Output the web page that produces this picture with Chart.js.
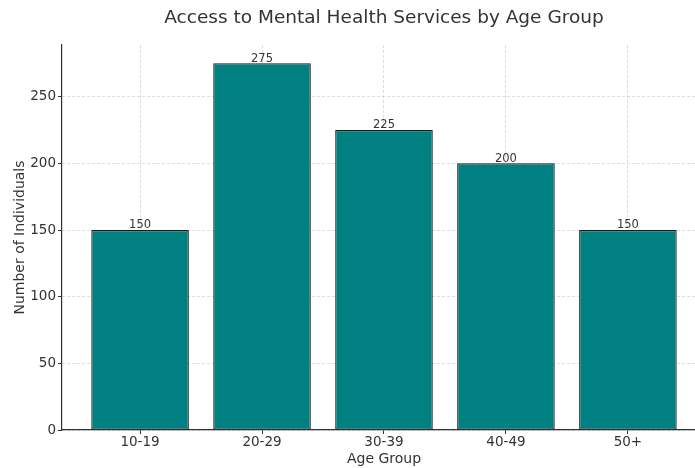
<!DOCTYPE html>
<html>
<head>
<meta charset="utf-8">
<script src="https://cdn.jsdelivr.net/npm/chart.js@4"></script>
<style>
html,body{margin:0;padding:0;background:#fff;}
#wrap{width:695px;height:468px;position:relative;}
</style>
</head>
<body>
<div id="wrap"><canvas id="c" width="695" height="468"></canvas></div>
<script>
const categories = ["10-19", "20-29", "30-39", "40-49", "50+"];
const individuals = [150, 275, 225, 200, 150];
const yTicks = [0, 50, 100, 150, 200, 250];

const titleText = "Access to Mental Health Services by Age Group";
const xTitle = "Age Group";
const yTitle = "Number of Individuals";
const FONT = "'DejaVu Sans', sans-serif";
const TXT = "#333333";

const overlay = {
  id: 'overlay',
  afterDatasetsDraw(chart) {
    const ctx = chart.ctx;
    const meta = chart.getDatasetMeta(0);
    ctx.save();
    ctx.fillStyle = TXT;
    ctx.font = "11.5px " + FONT;
    ctx.textAlign = 'center';
    ctx.textBaseline = 'bottom';
    meta.data.forEach((bar, i) => {
      ctx.fillText(String(individuals[i]), bar.x, bar.y + 1);
    });
    ctx.restore();
  },
  afterDraw(chart) {
    const ctx = chart.ctx;
    const area = chart.chartArea;
    const cx = chart.scales.x.getPixelForValue(2);
    ctx.save();
    ctx.fillStyle = TXT;
    ctx.textAlign = 'center';
    ctx.textBaseline = 'alphabetic';
    ctx.font = "18.5px " + FONT;
    ctx.fillText(titleText, cx, 23);
    ctx.font = "14px " + FONT;
    ctx.fillText(xTitle, cx, 463);
    ctx.translate(24, (area.top + area.bottom) / 2);
    ctx.rotate(-Math.PI / 2);
    ctx.fillText(yTitle, 0, 0);
    ctx.restore();
  }
};

new Chart(document.getElementById('c'), {
  type: 'bar',
  data: {
    datasets: [{
      data: categories.map((c, i) => ({ x: i, y: individuals[i] })),
      backgroundColor: '#008080',
      borderColor: '#1a1a1a',
      borderWidth: 1.2,
      borderSkipped: false,
      barPercentage: 0.8,
      categoryPercentage: 1.0
    }]
  },
  options: {
    responsive: false,
    animation: false,
    devicePixelRatio: 1,
    layout: { padding: { top: 45, left: 0, right: 0, bottom: 0 } },
    plugins: { legend: { display: false }, tooltip: { enabled: false }, title: { display: false } },
    scales: {
      x: {
        type: 'linear',
        min: -0.64,
        max: 4.55,
        offset: false,
        z: 1,
        afterBuildTicks(scale) { scale.ticks = categories.map((c, i) => ({ value: i })); },
        afterFit(scale) { scale.height = 38; },
        ticks: {
          autoSkip: false,
          maxRotation: 0,
          color: TXT,
          font: { family: FONT, size: 13.5 },
          padding: 0,
          callback: (v) => categories[v]
        },
        grid: { offset: false, color: 'rgba(176,176,176,0.55)', lineWidth: 0.8, tickLength: 4, tickColor: '#333', tickWidth: 1 },
        border: { display: true, color: '#333', width: 1.2, dash: [3, 2] }
      },
      y: {
        type: 'linear',
        min: 0,
        max: 288.75,
        z: 1,
        afterBuildTicks(scale) { scale.ticks = yTicks.map(v => ({ value: v })); },
        afterFit(scale) { scale.width = 62; },
        ticks: {
          color: TXT,
          font: { family: FONT, size: 13.5 },
          padding: 2
        },
        grid: { color: 'rgba(176,176,176,0.55)', lineWidth: 0.8, tickLength: 4, tickColor: '#333', tickWidth: 1 },
        border: { display: true, color: '#333', width: 1.2, dash: [3, 2] }
      }
    }
  },
  plugins: [overlay]
});
</script>
</body>
</html>
